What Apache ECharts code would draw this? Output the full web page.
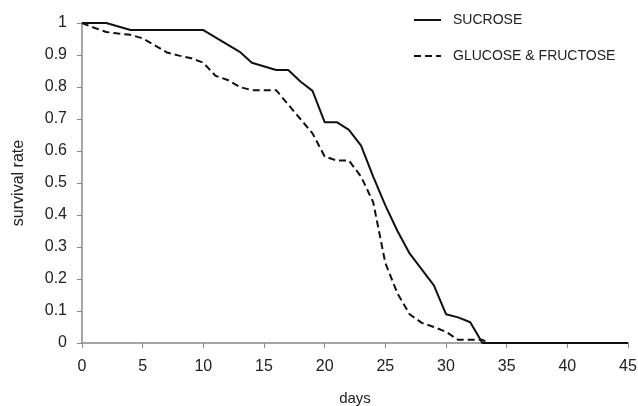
<!DOCTYPE html>
<html>
<head>
<meta charset="utf-8">
<script src="https://cdn.jsdelivr.net/npm/echarts@6/dist/echarts.min.js"></script>
<style>
  html, body { margin: 0; padding: 0; background: #fff; }
  #chart { width: 638px; height: 406px; }
</style>
</head>
<body>
<div id="chart"></div>
<script>
// survival curves, [day, rate]
var sucrose = [
  [0, 1], [2, 1], [4, 0.978], [10, 0.978], [13, 0.91], [14, 0.876],
  [16, 0.853], [17, 0.853], [18, 0.817], [19, 0.788], [20, 0.69], [21, 0.69],
  [22, 0.666], [23, 0.617], [24, 0.52], [25, 0.43], [26, 0.35], [27, 0.28],
  [28, 0.23], [29, 0.18], [30, 0.09], [31, 0.08], [32, 0.065], [33, 0], [45, 0]
];
var glucoseFructose = [
  [0, 1], [1, 0.985], [2, 0.972], [3, 0.967], [4, 0.963], [5, 0.952],
  [6, 0.93], [7, 0.908], [8, 0.898], [9, 0.89], [10, 0.876], [11, 0.835],
  [12, 0.822], [13, 0.8], [14, 0.79], [15, 0.79], [16, 0.79], [17, 0.745],
  [18, 0.7], [19, 0.655], [20, 0.583], [21, 0.57], [22, 0.57], [23, 0.52],
  [24, 0.44], [25, 0.25], [26, 0.155], [27, 0.09], [28, 0.063], [29, 0.05],
  [30, 0.035], [31, 0.01], [32, 0.01], [33, 0.01], [33.5, 0], [45, 0]
];
var seriesNames = ['SUCROSE', 'GLUCOSE & FRUCTOSE'];

var chart = echarts.init(document.getElementById('chart'));
var font = 'Liberation Sans, Arial, sans-serif';

chart.setOption({
  animation: false,
  backgroundColor: '#fff',
  textStyle: { fontFamily: font },
  grid: { left: 82, right: 10, top: 23, bottom: 63, outerBoundsMode: 'none' },
  legend: {
    orient: 'vertical',
    left: 413,
    top: 13,
    padding: 0,
    itemWidth: 27,
    itemHeight: 14,
    itemGap: 22,
    itemStyle: { opacity: 0 },
    textStyle: { fontSize: 14, color: '#222', fontFamily: font, padding: [0, 0, 0, 7] },
    data: seriesNames
  },
  xAxis: {
    type: 'value',
    min: 0, max: 45, interval: 5,
    name: 'days',
    nameLocation: 'middle',
    nameGap: 48,
    nameTextStyle: { fontSize: 15, color: '#222' },
    axisLine: { lineStyle: { color: '#888', width: 1.5 } },
    axisTick: { show: true, length: 5, lineStyle: { color: '#888' } },
    axisLabel: { fontSize: 16, color: '#222', margin: 16 },
    splitLine: { show: false }
  },
  yAxis: {
    type: 'value',
    min: 0, max: 1, interval: 0.1,
    name: 'survival rate',
    nameLocation: 'middle',
    nameGap: 55,
    nameTextStyle: { fontSize: 16, color: '#222' },
    axisLine: { show: true, lineStyle: { color: '#888', width: 1.5 } },
    axisTick: { show: true, length: 5, lineStyle: { color: '#888' } },
    axisLabel: { fontSize: 16, color: '#222', margin: 15 },
    splitLine: { show: false }
  },
  series: [
    {
      name: seriesNames[0],
      type: 'line',
      data: sucrose,
      symbol: 'none',
      lineStyle: { color: '#111', width: 2 },
      itemStyle: { color: '#111' }
    },
    {
      name: seriesNames[1],
      type: 'line',
      data: glucoseFructose,
      symbol: 'none',
      lineStyle: { color: '#111', width: 2, type: [7, 4] },
      itemStyle: { color: '#111' }
    }
  ]
});
</script>
</body>
</html>
